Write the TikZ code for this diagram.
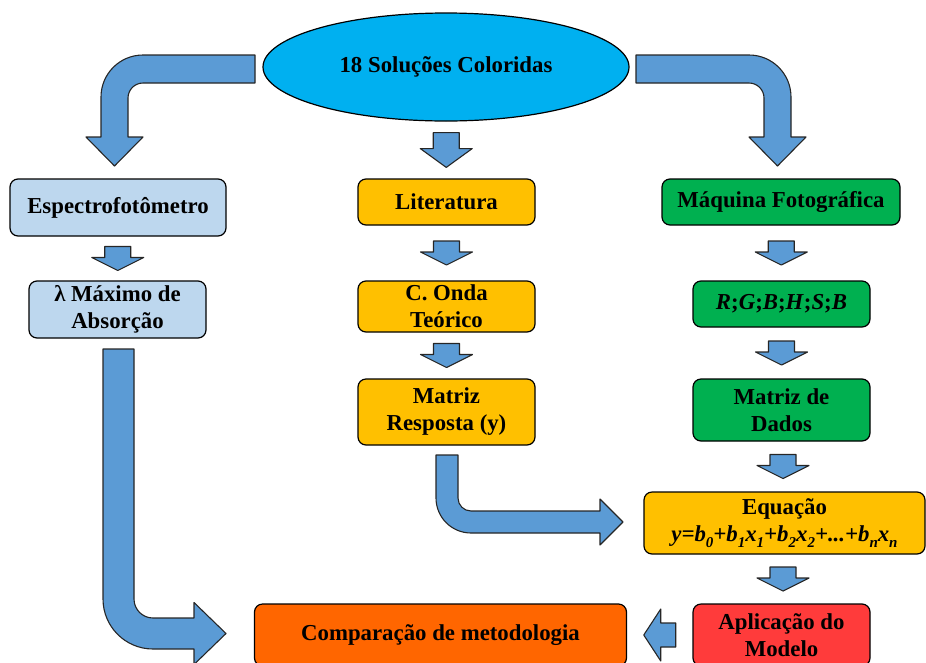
\documentclass[tikz,border=0pt]{standalone}
\usepackage{fontspec}
\setmainfont{Liberation Serif}
\usetikzlibrary{shapes.geometric,calc}

\definecolor{setacor}{HTML}{5B9BD5}
\definecolor{ceu}{HTML}{00B0F0}
\definecolor{azulclaro}{HTML}{BDD7EE}
\definecolor{ouro}{HTML}{FFC000}
\definecolor{verde}{HTML}{00B050}
\definecolor{vermelho}{HTML}{FF3B3B}
\definecolor{laranja}{HTML}{FF6600}

\newcommand{\ind}[1]{\raisebox{-0.28em}{\fontsize{15}{15}\selectfont #1}}

\tikzset{
  caixa/.style={draw=black, line width=1.2pt, rounded corners=8pt, align=center,
    inner sep=0pt, font=\bfseries\fontsize{22.8}{27}\selectfont},
  seta/.style={draw=black!85, line width=1.1pt, fill=setacor, line join=round},
  pics/desce/.style={code={
    \draw[seta] (-13,-12) -- (13,-12) -- (13,-1) -- (26,-1) -- (0,12) -- (-26,-1) -- (-13,-1) -- cycle;}},
  pics/volta/.style={code={
    \draw[seta] (16,-12) -- (16,12) -- (1,12) -- (1,26) -- (-16,0) -- (1,-26) -- (1,-12) -- cycle;}}
}

\begin{document}
\begin{tikzpicture}[x=1pt,y=-1pt]
\useasboundingbox (0,0) rectangle (926,662);

\node[ellipse, draw=black, line width=1.2pt, fill=ceu, minimum width=366pt, minimum height=108pt,
  font=\bfseries\fontsize{22.8}{27}\selectfont] (sol) at (446,67) {18 Soluções Coloridas};

% coluna do espectrofotometro
\node[caixa, fill=azulclaro, minimum width=216pt, minimum height=57pt] (espec) at (118,207.5) {Espectrofotômetro};
\node[caixa, fill=azulclaro, minimum width=177pt, minimum height=57pt] (lambda) at (117.5,309.5) {λ Máximo de\\Absorção};

% coluna da literatura
\node[caixa, fill=ouro, minimum width=177pt, minimum height=46pt] (lit) at (446.5,202) {Literatura};
\node[caixa, fill=ouro, minimum width=177pt, minimum height=51pt] (onda) at (446.5,306.5) {C. Onda\\Teórico};
\node[caixa, fill=ouro, minimum width=177pt, minimum height=66pt] (resp) at (446.5,412) {Matriz\\Resposta (y)};

% coluna da maquina fotografica
\node[caixa, fill=verde, minimum width=238pt, minimum height=46pt] (maq) at (781,202) {Máquina Fotográfica};
\node[caixa, fill=verde, minimum width=177pt, minimum height=46pt] (rgb) at (781.5,304)
  {\textit{R};\textit{G};\textit{B};\textit{H};\textit{S};\textit{B}};
\node[caixa, fill=verde, minimum width=177pt, minimum height=62pt] (dados) at (781.5,410) {Matriz de\\Dados};
\node[caixa, fill=ouro, minimum width=281pt, minimum height=62pt] (eq) at (784.5,523)
  {Equação\\{\itshape y=b\ind{0}+b\ind{1}x\ind{1}+b\ind{2}x\ind{2}+...+b\ind{n}x\ind{n}}};
\node[caixa, fill=vermelho, minimum width=177pt, minimum height=62pt] (apl) at (781.5,635) {Aplicação do\\Modelo};
\node[caixa, fill=laranja, minimum width=372pt, minimum height=62pt] (comp) at (440.5,635) {Comparação de metodologia};

% setas retas
\pic[yscale=1.45] at ($(sol.south)!0.5!(lit.north)$) {desce};
\pic at ($(espec.south)!0.5!(lambda.north)$) {desce};
\pic at ($(lit.south)!0.5!(onda.north)$) {desce};
\pic at ($(onda.south)!0.5!(resp.north)$) {desce};
\pic at ($(maq.south)!0.5!(rgb.north)$) {desce};
\pic at ($(rgb.south)!0.5!(dados.north)$) {desce};
\pic at ($(dados.south)!0.5!(eq.north)$) {desce};
\pic at ($(eq.south)!0.5!(apl.north)$) {desce};
\pic at ($(apl.west)!0.5!(comp.east)$) {volta};

% setas curvas
\draw[seta] (255,55) -- (143,55) arc[start angle=270, end angle=180, radius=42] -- (101,137) -- (86,137)
  -- (114.5,166) -- (143,137) -- (128,137) -- (128,98) arc[start angle=180, end angle=270, radius=15] -- (255,83) -- cycle;
\draw[seta] (636,55) -- (749,55) arc[start angle=270, end angle=360, radius=42] -- (791,137) -- (806,137)
  -- (777.5,166) -- (749,137) -- (764,137) -- (764,98) arc[start angle=0, end angle=-90, radius=15] -- (636,83) -- cycle;
\draw[seta] (103,349) -- (103,599) arc[start angle=180, end angle=90, radius=50] -- (194,649) -- (194,664.5)
  -- (226,633.5) -- (194,602.5) -- (194,618) -- (153,618) arc[start angle=90, end angle=180, radius=19] -- (134,349) -- cycle;
\draw[seta] (436,455) -- (436,498) arc[start angle=180, end angle=90, radius=35] -- (600,533) -- (600,545)
  -- (623,522) -- (600,499) -- (600,511) -- (471,511) arc[start angle=90, end angle=180, radius=13] -- (458,455) -- cycle;
\end{tikzpicture}
\end{document}
